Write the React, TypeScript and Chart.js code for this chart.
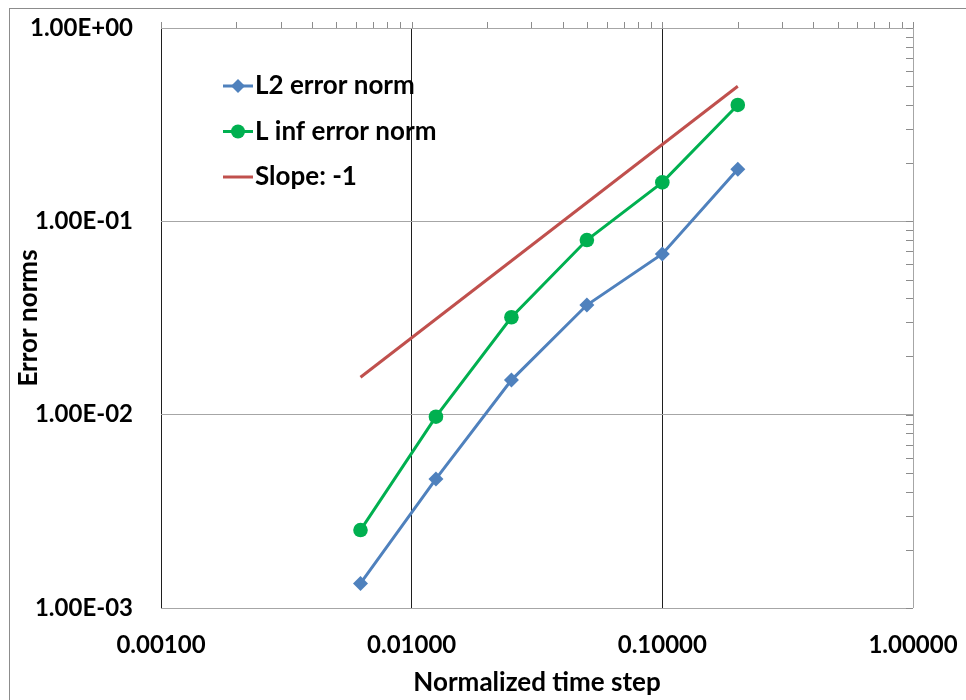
import React, { useEffect, useRef } from "react";
import { Chart, registerables } from "chart.js";

Chart.register(...registerables);

// Convergence study: error norms versus normalized time step (log-log)
const timeSteps = [0.00625, 0.0125, 0.025, 0.05, 0.1, 0.2];
const l2Errors = [0.00134, 0.00465, 0.0151, 0.0369, 0.0678, 0.186];
const linfErrors = [0.00253, 0.00976, 0.0319, 0.08, 0.159, 0.4];
const slopeSteps = [0.00625, 0.2];
const slopeValues = [0.015625, 0.5];
const xTickValues = [0.001, 0.01, 0.1, 1];
const yTickValues = [0.001, 0.01, 0.1, 1];
const seriesNames = ["L2 error norm", "L inf error norm", "Slope: -1"];
const xTitle = "Normalized time step";
const yTitle = "Error norms";

const BLUE = "#4f81bd";
const GREEN = "#00b050";
const RED = "#c0504d";
const GRID_LIGHT = "#a6a6a6";
const GRID_DARK = "#1f1f1f";
const FONT = "Lato, 'Open Sans', sans-serif";
const TICK_SIZE = 24;
const TITLE_SIZE = 26;
const LEGEND_SIZE = 26;

function formatSci(v: number): string {
  const [mant, exp] = v.toExponential(2).split("e");
  const e = parseInt(exp, 10);
  const sign = e < 0 ? "-" : "+";
  const abs = Math.abs(e).toString().padStart(2, "0");
  return `${mant}E${sign}${abs}`;
}

// Outer frame, minor ticks on top / right edges, and in-plot legend
const decorPlugin = {
  id: "decor",
  beforeDraw(chart: any) {
    const ctx = chart.ctx;
    ctx.save();
    ctx.strokeStyle = "#8c8c8c";
    ctx.lineWidth = 1;
    ctx.strokeRect(9.5, 8.5, 3000, 3000);
    ctx.restore();
  },
  afterDraw(chart: any) {
    const ctx = chart.ctx;
    const xs = chart.scales.x;
    const ys = chart.scales.y;
    const area = chart.chartArea;
    ctx.save();
    ctx.strokeStyle = "#8c8c8c";
    ctx.lineWidth = 1;
    ctx.beginPath();
    for (let d = -3; d <= 0; d++) {
      for (let k = 1; k <= 9; k++) {
        const v = k * Math.pow(10, d);
        if (v > 1.0000001) break;
        const px = Math.round(xs.getPixelForValue(v)) + 0.5;
        ctx.moveTo(px, area.top - 6);
        ctx.lineTo(px, area.top);
        const py = Math.round(ys.getPixelForValue(v)) + 0.5;
        ctx.moveTo(area.right - 7, py);
        ctx.lineTo(area.right, py);
      }
    }
    ctx.stroke();

    // legend
    const x0 = area.left + 62;
    const y0 = area.top + 58;
    const gap = 45.5;
    ctx.font = `bold ${LEGEND_SIZE}px ${FONT}`;
    ctx.textBaseline = "middle";
    ctx.textAlign = "left";
    chart.data.datasets.forEach((ds: any, i: number) => {
      const y = y0 + i * gap;
      ctx.strokeStyle = ds.borderColor;
      ctx.lineWidth = 3;
      ctx.beginPath();
      ctx.moveTo(x0, y);
      ctx.lineTo(x0 + 30, y);
      ctx.stroke();
      if (ds.pointStyle && ds.pointRadius > 0) {
        ctx.fillStyle = ds.backgroundColor;
        ctx.beginPath();
        if (ds.pointStyle === "rectRot") {
          const r = 7;
          ctx.moveTo(x0 + 15, y - r);
          ctx.lineTo(x0 + 15 + r, y);
          ctx.lineTo(x0 + 15, y + r);
          ctx.lineTo(x0 + 15 - r, y);
          ctx.closePath();
        } else {
          ctx.arc(x0 + 15, y, 7, 0, Math.PI * 2);
        }
        ctx.fill();
      }
      ctx.fillStyle = "#000";
      ctx.fillText(ds.label, x0 + 32, y);
    });
    ctx.restore();
  },
};

export default function App() {
  const ref = useRef<HTMLCanvasElement | null>(null);

  useEffect(() => {
    document.body.style.margin = "0";
    const canvas = ref.current;
    if (!canvas) return;

    const toPoints = (xs: number[], ys: number[]) =>
      xs.map((x, i) => ({ x, y: ys[i] }));

    const noOverflow = (s: any) => {
      s.paddingTop = 0;
      s.paddingBottom = 0;
      s.paddingLeft = 0;
      s.paddingRight = 0;
    };

    const chart = new Chart(canvas, {
      type: "line",
      data: {
        datasets: [
          {
            label: seriesNames[0],
            data: toPoints(timeSteps, l2Errors),
            borderColor: BLUE,
            backgroundColor: BLUE,
            borderWidth: 3,
            pointStyle: "rectRot",
            pointRadius: 7.5,
            pointBorderWidth: 0,
          },
          {
            label: seriesNames[1],
            data: toPoints(timeSteps, linfErrors),
            borderColor: GREEN,
            backgroundColor: GREEN,
            borderWidth: 3,
            pointStyle: "circle",
            pointRadius: 7.3,
            pointBorderWidth: 0,
          },
          {
            label: seriesNames[2],
            data: toPoints(slopeSteps, slopeValues),
            borderColor: RED,
            backgroundColor: RED,
            borderWidth: 3,
            pointRadius: 0,
          },
        ],
      },
      options: {
        responsive: false,
        animation: false,
        layout: { padding: { top: 28, right: 53, left: 0, bottom: 0 } },
        plugins: {
          legend: { display: false },
          tooltip: { enabled: false },
        },
        scales: {
          x: {
            type: "logarithmic",
            min: 0.001,
            max: 1,
            afterBuildTicks: (s: any) => {
              s.ticks = xTickValues.map((value) => ({ value }));
            },
            afterFit: (s: any) => {
              s.height = 92;
              noOverflow(s);
            },
            ticks: {
              autoSkip: false,
              maxRotation: 0,
              padding: 23,
              color: "#000",
              font: { family: FONT, size: TICK_SIZE, weight: "bold" },
              callback: (v: any) => Number(v).toFixed(5),
            },
            grid: {
              drawTicks: false,
              lineWidth: 1,
              color: (c: any) =>
                c.tick && c.tick.value >= 1 ? GRID_LIGHT : GRID_DARK,
            },
            border: { display: false },
            title: {
              display: true,
              text: xTitle,
              color: "#000",
              font: { family: FONT, size: TITLE_SIZE, weight: "bold" },
              padding: { top: 0, bottom: 2 },
            },
          },
          y: {
            type: "logarithmic",
            min: 0.001,
            max: 1,
            afterBuildTicks: (s: any) => {
              s.ticks = yTickValues.map((value) => ({ value }));
            },
            afterFit: (s: any) => {
              s.width = 161;
              noOverflow(s);
            },
            ticks: {
              autoSkip: false,
              padding: 28,
              color: "#000",
              font: { family: FONT, size: TICK_SIZE, weight: "bold" },
              callback: (v: any) => formatSci(Number(v)),
            },
            grid: {
              drawTicks: false,
              lineWidth: 1,
              color: GRID_LIGHT,
            },
            border: { display: false },
            title: {
              display: true,
              text: yTitle,
              color: "#000",
              font: { family: FONT, size: TITLE_SIZE, weight: "bold" },
              padding: { top: 13, bottom: 0 },
            },
          },
        },
      },
      plugins: [decorPlugin],
    });

    return () => chart.destroy();
  }, []);

  return (
    <div style={{ width: 966, height: 700, background: "#fff" }}>
      <canvas ref={ref} width={966} height={700} />
    </div>
  );
}
